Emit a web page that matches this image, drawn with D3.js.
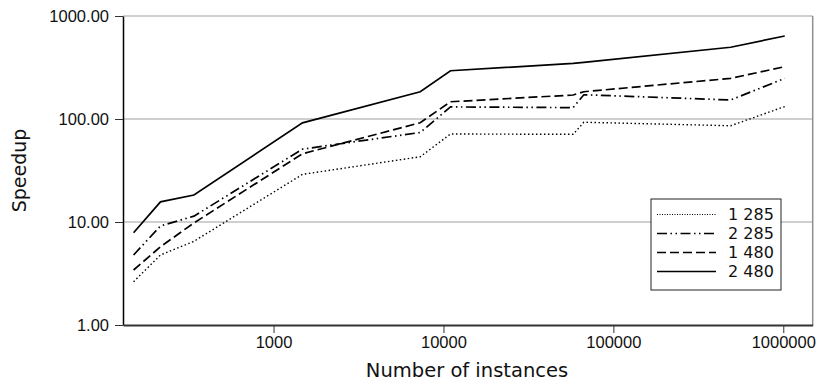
<!DOCTYPE html>
<html lang="en">
<head>
<meta charset="UTF-8">
<title>Speedup</title>
<script src="https://d3js.org/d3.v7.min.js"></script>
<style>
  body, html { margin: 0; padding: 0; background: #fff; }
  svg { font-family: "DejaVu Sans", sans-serif; display: block; }
</style>
</head>
<body>
<script>
'use strict'

// data
const instances = [150, 216, 340, 1480, 7300, 11000, 58000, 67000, 490000, 1020000]
const s1_285 = [2.63, 4.78, 6.5, 29, 43, 71.5, 71, 93, 86, 132]
const s2_285 = [4.78, 9.15, 11.4, 51, 74, 131, 129, 172, 153, 248]
const s1_480 = [3.42, 5.75, 9.8, 46, 92, 147, 171, 184, 248, 322]
const s2_480 = [7.87, 15.7, 18.3, 91.8, 184, 294, 347, 355, 497, 640]
const seriesNames = ['1 285', '2 285', '1 480', '2 480']
const xTicks = [1000, 10000, 100000, 1000000]
const yTicks = [1, 10, 100, 1000]

const W = 817, H = 382
const margin = {top: 16, right: 4.3, bottom: 57, left: 123}
const w = W - margin.left - margin.right
const h = H - margin.top - margin.bottom

const dashes = ['1.5,2.5', '10,3.5,1.5,3.5,1.5,3.5', '9,4', null]
const widths = [1.4, 1.7, 1.7, 1.7]

const svg = d3.select('body').append('svg')
    .attr('width', W)
    .attr('height', H)

const g = svg.append('g')
    .attr('transform', `translate(${margin.left},${margin.top})`)

const x = d3.scaleLog().domain([130, 1490000]).range([0, w])
const y = d3.scaleLog().domain([1, 1000]).range([h, 0])

// horizontal gridlines
g.selectAll('.grid')
    .data(yTicks.slice(1))
    .enter()
    .append('line')
    .attr('x1', 0)
    .attr('x2', w)
    .attr('y1', d => y(d))
    .attr('y2', d => y(d))
    .attr('stroke', '#a0a0a0')
    .attr('stroke-width', 1.2)

// right border
g.append('line')
    .attr('x1', w).attr('x2', w)
    .attr('y1', 0).attr('y2', h)
    .attr('stroke', '#909090')
    .attr('stroke-width', 1.5)

// axes
const yAxis = d3.axisLeft(y)
    .tickValues(yTicks)
    .tickFormat(d3.format('.2f'))
    .tickSize(8)
    .tickPadding(6)
    .tickSizeOuter(0)

const xAxis = d3.axisBottom(x)
    .tickValues(xTicks)
    .tickFormat(d3.format('d'))
    .tickSize(8)
    .tickPadding(3)
    .tickSizeOuter(0)

const gy = g.append('g').call(yAxis)
gy.select('.domain').attr('stroke', '#000').attr('stroke-width', 1.5)
gy.selectAll('.tick line').attr('stroke', '#333')
gy.selectAll('text').style('font-size', '16.5px').attr('fill', '#111')

const gx = g.append('g')
    .attr('transform', `translate(0,${h})`)
    .call(xAxis)
gx.select('.domain').attr('stroke', '#333').attr('stroke-width', 2)
gx.selectAll('.tick line').attr('stroke', '#333')
gx.selectAll('text').style('font-size', '16.5px').attr('fill', '#111')

// axis titles
svg.append('text')
    .text('Speedup')
    .attr('transform', `translate(25.5, ${margin.top + h / 2}) rotate(-90)`)
    .attr('text-anchor', 'middle')
    .style('font-size', '19px')
    .attr('fill', '#111')

svg.append('text')
    .text('Number of instances')
    .attr('x', 467)
    .attr('y', 377)
    .attr('text-anchor', 'middle')
    .style('font-size', '19.5px')
    .attr('fill', '#111')

// lines
const allSeries = [s1_285, s2_285, s1_480, s2_480]
const line = d3.line()
    .x(d => x(d[0]))
    .y(d => y(d[1]))

allSeries.forEach((s, i) => {
    g.append('path')
        .datum(instances.map((v, j) => [v, s[j]]))
        .attr('d', line)
        .attr('fill', 'none')
        .attr('stroke', '#000')
        .attr('stroke-width', widths[i])
        .attr('stroke-dasharray', dashes[i])
})

// legend
const legend = svg.append('g')
    .attr('transform', 'translate(651,199)')

legend.append('rect')
    .attr('width', 130)
    .attr('height', 91)
    .attr('fill', '#fff')
    .attr('stroke', '#222')
    .attr('stroke-width', 1)

const rows = legend.selectAll('.row')
    .data(seriesNames)
    .enter()
    .append('g')
    .attr('transform', (d, i) => `translate(0, ${15.5 + i * 19})`)

rows.append('line')
    .attr('x1', 6)
    .attr('x2', 65)
    .attr('y1', 0)
    .attr('y2', 0)
    .attr('stroke', '#000')
    .attr('stroke-width', (d, i) => i === 0 ? 1 : 1.7)
    .attr('stroke-dasharray', (d, i) => i === 0 ? '1,1.5' : dashes[i])

rows.append('text')
    .text(d => d)
    .attr('x', 77)
    .attr('y', 0)
    .attr('dy', '0.36em')
    .style('font-size', '16px')
    .attr('fill', '#111')
</script>
</body>
</html>
